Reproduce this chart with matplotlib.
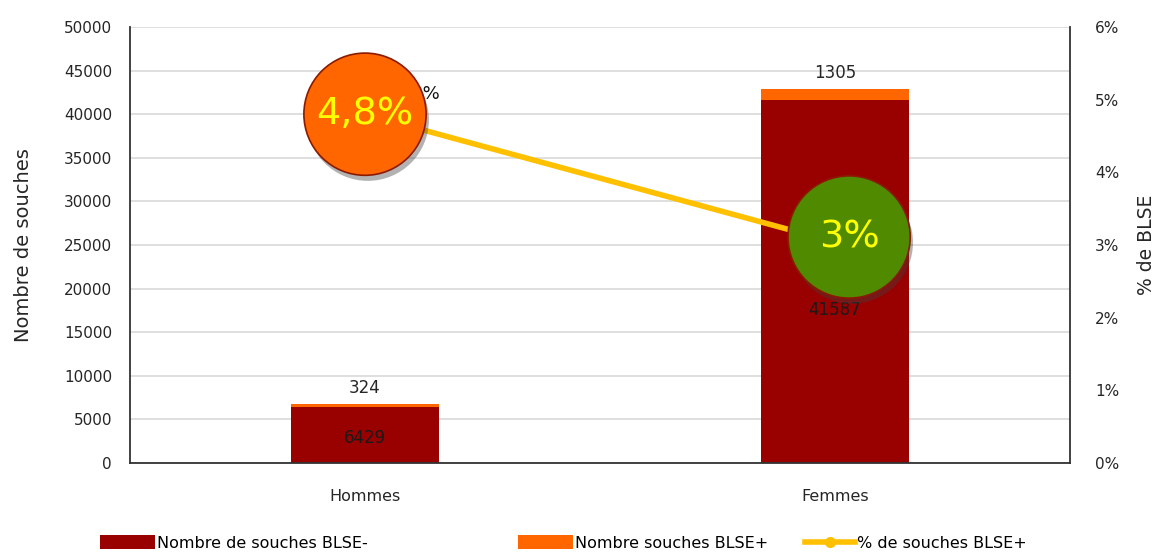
import matplotlib
matplotlib.use("Agg")
import matplotlib.pyplot as plt
import matplotlib.patheffects as pe
from matplotlib.ticker import FuncFormatter, MultipleLocator
from matplotlib.lines import Line2D
from matplotlib.patches import Patch

plt.rcParams['font.family'] = ['DejaVu Sans']

categories = ["Hommes", "Femmes"]
blse_neg = [6429, 41587]
blse_pos = [324, 1305]
pct_blse = [4.8, 3.04]
pct_labels = ["4,8%", "3%"]

c_neg = "#990000"
c_pos = "#FF6600"
c_line = "#FFC000"
marker_colors = ["#FF6600", "#4F8A00"]
txt = '#262626'

fig = plt.figure(figsize=(11.6, 5.54), dpi=100)
ax = fig.add_axes([130/1160, 1-463/554, 940/1160, 436/554])
x = list(range(len(categories)))
w = 0.315
ax.bar(x, blse_neg, width=w, color=c_neg, zorder=2)
ax.bar(x, blse_pos, width=w, bottom=blse_neg, color=c_pos, zorder=2)
ax.set_xlim(-0.5, 1.5)
ax.set_ylim(0, 50000)
ax.yaxis.set_major_locator(MultipleLocator(5000))
ax.grid(axis='y', color='#D9D9D9', linewidth=1.2, zorder=0)
ax.set_axisbelow(True)
ax.set_xticks(x)
ax.set_xticklabels(categories, fontsize=11.5, color=txt)
ax.tick_params(axis='x', length=0, pad=19)
ax.tick_params(axis='y', length=0, pad=13, labelsize=11, labelcolor=txt)
for s in ['top', 'right']:
    ax.spines[s].set_visible(False)
for s in ['left', 'bottom']:
    ax.spines[s].set_color('#333333')
    ax.spines[s].set_linewidth(1.3)
ax.set_ylabel("Nombre de souches", fontsize=14, labelpad=22, color=txt)

# bar labels
for i in x:
    ax.text(i, blse_neg[i] + blse_pos[i] + 1800, str(blse_pos[i]), ha='center', va='center',
            fontsize=12, color=txt, zorder=3)
ax.text(0, blse_neg[0] - 3560, str(blse_neg[0]), ha='center', va='center', fontsize=12,
        color='#1a1a1a', zorder=3)
ax.text(1, blse_neg[1] - 24040, str(blse_neg[1]), ha='center', va='center', fontsize=12,
        color='#1a1a1a', zorder=3)

ax2 = ax.twinx()
ax2.set_ylim(0, 6)
ax2.yaxis.set_major_locator(MultipleLocator(1))
ax2.yaxis.set_major_formatter(FuncFormatter(lambda v, p: f"{int(v)}%"))
ax2.tick_params(axis='y', length=0, pad=18, labelsize=11, labelcolor=txt)
for s in ['top', 'left', 'bottom']:
    ax2.spines[s].set_visible(False)
ax2.spines['right'].set_color('#333333')
ax2.spines['right'].set_linewidth(1.3)
ax2.set_ylabel("% de BLSE", fontsize=13.5, labelpad=13, color=txt)

ax2.plot(x, pct_blse, color=c_line, linewidth=4, zorder=3, solid_capstyle='butt')
# data label partly hidden behind the circle (as in the reference)
ax2.text(0.16, pct_blse[0] + 0.28, pct_labels[0], ha='right', va='center', fontsize=13,
         color='#111111', zorder=3)
for i in x:
    dx = 0.03 if i == 1 else 0
    dy = 0.07 if i == 1 else 0
    ax2.plot([i + dx], [pct_blse[i] + dy], marker='o',
             markersize=88, markerfacecolor=marker_colors[i], markeredgecolor='#8B1A00',
             markeredgewidth=1.2, linestyle='none', zorder=5,
             path_effects=[pe.SimplePatchShadow(offset=(2, -4), shadow_rgbFace='#404040', alpha=0.4),
                           pe.Normal()])
    ax2.text(i + dx, pct_blse[i] + dy, pct_labels[i],
             ha='center', va='center', fontsize=27.5, color='#FFFF00', zorder=6)

handles = [Patch(facecolor=c_neg, edgecolor='none'),
           Patch(facecolor=c_pos, edgecolor='none'),
           Line2D([0], [0], color=c_line, linewidth=4, marker='o', markersize=7,
                  markerfacecolor=c_line, markeredgecolor=c_line)]
labels = ["Nombre de souches BLSE-", "Nombre souches BLSE+", "% de souches BLSE+"]
starts = [100, 518, 805]
hlen = [55, 55, 50]
fs = 11.5
for h, l, sx, hl in zip(handles, labels, starts, hlen):
    fig.legend([h], [l], loc='center left', bbox_to_anchor=(sx/1160, 1-543/554),
               frameon=False, fontsize=fs, borderpad=0, borderaxespad=0,
               handlelength=hl/(fs*100/72), handleheight=1.0, handletextpad=0.15)

fig.savefig("out.png", dpi=100)
